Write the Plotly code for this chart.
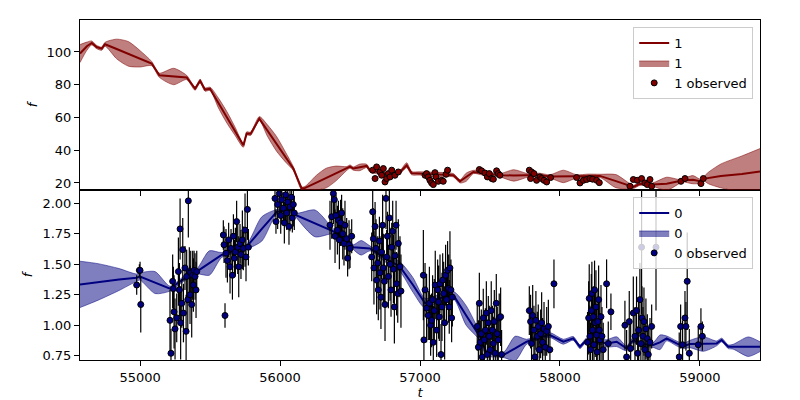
import plotly.graph_objects as go

# ---------------- Series "1" (top panel) ----------------
t1_mean = [54571, 54620, 54655, 54690, 54726, 54750, 54833, 54917, 55000, 55083,
           55138, 55240, 55333, 55393, 55429, 55464, 55500, 55560, 55620, 55680,
           55738, 55762, 55790, 55852, 55910, 55975, 56040, 56095, 56155, 56180,
           56260, 56330, 56400, 56476, 56500, 56524, 56570, 56619, 56643, 56700,
           56780, 56857, 56905, 56940, 57000, 57120, 57238, 57286, 57330, 57381,
           57450, 57571, 57670, 57774, 57850, 57929, 58024, 58119, 58200, 58286,
           58400, 58524, 58571, 58660, 58762, 58860, 58881, 58950, 59010, 59024,
           59060, 59150, 59300, 59429]
f1_mean = [99.0, 103.5, 105.5, 103.0, 102.0, 104.7, 101.8, 98.8, 95.8, 92.9,
           85.8, 85.0, 84.4, 77.6, 82.3, 77.0, 77.5, 68.8, 60.1, 51.4,
           43.0, 50.2, 50.0, 59.3, 52.0, 43.9, 35.7, 28.8, 16.6, 17.0,
           20.2, 23.0, 25.8, 28.8, 30.0, 28.8, 29.5, 30.4, 27.5, 26.5,
           25.5, 26.7, 30.8, 26.0, 25.8, 25.0, 24.7, 21.0, 23.5, 26.7,
           26.0, 24.7, 24.6, 24.6, 24.8, 24.0, 24.0, 24.0, 24.2, 24.3,
           21.1, 17.6, 19.5, 19.0, 19.5, 21.0, 21.6, 22.0, 20.9, 22.5,
           23.0, 24.3, 25.5, 27.0]
s1_band = [5.5, 2.5, 1.2, 1.0, 1.0, 1.2, 6.0, 7.5, 5.0, 1.3,
           1.3, 5.0, 1.3, 1.0, 1.0, 1.0, 1.0, 3.0, 3.5, 2.5,
           1.2, 1.0, 1.0, 1.2, 3.5, 4.5, 3.0, 1.2, 1.0, 1.0,
           4.5, 6.0, 4.5, 1.2, 1.0, 1.0, 2.0, 1.0, 1.0, 1.0,
           1.0, 1.0, 1.5, 1.0, 1.0, 1.5, 1.0, 1.0, 2.5, 1.0,
           1.2, 1.0, 3.5, 1.0, 1.2, 1.0, 3.8, 1.0, 1.2, 1.0,
           4.0, 1.0, 1.0, 1.0, 4.0, 1.0, 1.0, 2.5, 1.0, 1.0,
           3.5, 7.3, 11.0, 14.0]

t1_obs = [56662, 56679, 56690, 56714, 56726, 56738, 56750, 56762, 56774, 56786,
          56798, 56821, 56845,
          57036, 57047, 57059, 57071, 57083, 57095, 57107, 57114, 57131, 57155,
          57166, 57186, 57197,
          57424, 57440, 57464, 57481, 57495, 57512, 57524, 57547, 57559, 57571,
          57781, 57797, 57814, 57790, 57833, 57857, 57869, 57886, 57905, 57933,
          58119, 58143, 58167, 58190, 58214, 58233, 58262, 58281,
          58500, 58524, 58552, 58583, 58607, 58624, 58643, 58655,
          58864, 58893, 59007, 59024]
f1_obs = [27.8, 22.7, 29.8, 26.7, 24.7, 28.8, 20.6, 22.7, 25.7, 23.7,
          27.8, 24.7, 26.7,
          24.7, 25.7, 23.7, 21.6, 20.0, 19.0, 26.3, 23.7, 21.0, 21.6,
          21.0, 25.3, 27.8,
          28.2, 27.4, 26.1, 23.7, 25.7, 22.7, 22.3, 27.4, 25.7, 24.7,
          27.8, 26.7, 25.7, 22.7, 21.6, 23.7, 22.7, 21.6, 20.6, 23.3,
          23.3, 20.0, 21.6, 22.1, 22.7, 22.3, 21.6, 20.2,
          18.0, 22.1, 21.6, 22.7, 20.0, 19.0, 22.1, 18.0,
          21.0, 22.7, 19.6, 22.7]
e1_obs = [1.2, 1.0, 1.3, 1.1, 1.0, 1.2, 1.4, 1.0, 1.1, 1.2,
          1.0, 1.3, 1.1,
          1.0, 1.2, 1.1, 1.3, 1.0, 1.2, 1.1, 1.0, 1.3, 1.1,
          1.2, 1.0, 1.1,
          1.0, 1.2, 1.1, 1.0, 1.3, 1.1, 1.2, 1.0, 1.1, 1.2,
          1.1, 1.0, 1.2, 1.3, 1.1, 1.0, 1.2, 1.1, 1.0, 1.2,
          1.1, 1.3, 1.0, 1.2, 1.1, 1.0, 1.2, 1.1,
          1.3, 1.0, 1.1, 1.2, 1.0, 1.3, 1.1, 1.2,
          1.0, 1.1, 1.2, 1.0]

# ---------------- Series "0" (bottom panel) ----------------
t0_mean = [54571, 54700, 54850, 54975, 55000, 55107, 55214, 55300, 55405, 55495,
           55583, 55670, 55762, 55870, 55976, 56050, 56095, 56119, 56250, 56381,
           56440, 56500, 56524, 56580, 56643, 56750, 56857, 56950, 57036, 57130,
           57238, 57330, 57428, 57476, 57595, 57680, 57762, 57850, 57928, 58024,
           58095, 58143, 58190, 58238, 58286, 58333, 58405, 58476, 58524, 58571,
           58666, 58714, 58762, 58833, 58881, 58928, 59024, 59119, 59155, 59202,
           59238, 59345, 59429]
f0_mean = [1.335, 1.355, 1.375, 1.39, 1.40, 1.35, 1.30, 1.37, 1.44, 1.51,
           1.576, 1.61, 1.644, 1.79, 1.93, 1.94, 1.945, 1.90, 1.835, 1.77,
           1.72, 1.67, 1.64, 1.635, 1.63, 1.55, 1.48, 1.33, 1.18, 1.22,
           1.248, 1.08, 0.906, 0.77, 0.756, 0.81, 0.865, 0.90, 0.92, 0.865,
           0.892, 0.824, 0.879, 0.838, 0.865, 0.851, 0.865, 0.81, 0.879, 0.846,
           0.838, 0.86, 0.892, 0.851, 0.829, 0.846, 0.846, 0.851, 0.879, 0.824,
           0.824, 0.824, 0.824]
s0_band = [0.19, 0.15, 0.09, 0.03, 0.03, 0.09, 0.02, 0.02, 0.02, 0.10,
           0.02, 0.02, 0.02, 0.10, 0.02, 0.02, 0.02, 0.02, 0.11, 0.02,
           0.02, 0.02, 0.02, 0.06, 0.02, 0.03, 0.04, 0.06, 0.04, 0.03,
           0.03, 0.08, 0.03, 0.02, 0.02, 0.10, 0.02, 0.02, 0.02, 0.02,
           0.015, 0.015, 0.015, 0.015, 0.02, 0.03, 0.04, 0.02, 0.02, 0.02,
           0.02, 0.06, 0.02, 0.02, 0.02, 0.03, 0.06, 0.02, 0.015, 0.015,
           0.02, 0.08, 0.04]

t0_obs = [54976, 54995, 55000, 55005,
          55214, 55221, 55233, 55238, 55243, 55250, 55262, 55274, 55281, 55286,
          55290, 55298, 55305, 55310, 55321, 55329, 55333, 55341, 55345, 55352,
          55357, 55362, 55369, 55376, 55381, 55386, 55393, 55400, 55405,
          55595, 55600, 55607, 55614, 55624, 55633, 55643, 55650, 55660, 55667,
          55674, 55681, 55690, 55698, 55705, 55714, 55721, 55731, 55738, 55750,
          55757, 55767, 55774,
          55964, 55971, 55983, 55995, 56005, 56012, 56024, 56031, 56040, 56048,
          56055, 56064, 56071, 56081, 56088, 56095, 56102,
          56357, 56369, 56381, 56388, 56393, 56400, 56410, 56417, 56424, 56433,
          56440, 56448, 56457, 56464, 56476, 56483, 56493, 56500, 56512,
          56655, 56662, 56667, 56671, 56679, 56686, 56690, 56698, 56702, 56710,
          56714, 56721, 56726, 56733, 56738, 56745, 56750, 56757, 56762, 56767,
          56774, 56781, 56786, 56793, 56798, 56805, 56810, 56817, 56821, 56829,
          56833, 56841, 56845, 56852, 56857, 56864,
          57024, 57028, 57036, 57047, 57059, 57067, 57076, 57083, 57090, 57095,
          57102, 57109, 57119, 57126, 57133, 57138, 57143, 57150, 57157, 57162,
          57169, 57176, 57183, 57190, 57197, 57205, 57209, 57214, 57221, 57226,
          57231,
          57409, 57417, 57424, 57431, 57438, 57445, 57452, 57459, 57467, 57474,
          57481, 57488, 57495, 57502, 57509, 57517, 57524, 57531, 57538, 57545,
          57552, 57559, 57566, 57576, 57583,
          57781, 57790, 57797, 57805, 57814, 57821, 57828, 57838, 57845, 57852,
          57862, 57869, 57876, 57886, 57895, 57905, 57917, 57928, 57957,
          58197, 58205, 58209, 58214, 58219, 58224, 58228, 58233, 58238, 58243,
          58247, 58252, 58257, 58262, 58266, 58271, 58276, 58281, 58286, 58293,
          58300, 58309, 58333, 58345, 58364,
          58464, 58476, 58495, 58505, 58524, 58536, 58547, 58555, 58562, 58571,
          58578, 58586, 58593, 58600, 58607, 58614, 58624, 58631, 58643, 58655,
          58583, 58686,
          58852, 58862, 58876, 58893, 58900, 58909, 58924, 58988, 59007, 59017]
f0_obs = [1.33, 1.45, 1.45, 1.17,
          1.04, 0.77, 1.36, 1.30, 1.11, 0.97, 1.06, 1.44, 1.29, 1.79,
          1.02, 1.18, 1.62, 1.10, 1.47, 0.95, 1.40, 1.21, 2.02, 1.44,
          1.25, 1.43, 1.17, 1.41, 1.33, 1.45, 1.40, 1.29, 1.44,
          1.74, 1.66, 1.08, 1.59, 1.53, 1.70, 1.48, 1.63, 1.41, 1.73,
          1.55, 1.60, 1.85, 1.64, 1.48, 1.67, 1.58, 1.70, 1.63, 1.78,
          1.56, 1.95, 1.64,
          2.04, 1.85, 1.99, 2.08, 1.90, 2.03, 1.96, 1.84, 2.07, 1.92,
          2.01, 1.81, 1.97, 2.05, 1.88, 1.99, 1.92,
          1.82, 1.89, 2.08, 2.03, 1.73, 1.90, 1.78, 1.86, 1.70, 1.84,
          1.92, 1.75, 1.67, 1.82, 1.71, 1.55, 1.66, 1.63, 1.73,
          1.56, 1.93, 1.71, 1.47, 1.81, 1.63, 1.37, 1.51, 1.29, 1.69,
          1.43, 1.23, 1.60, 1.82, 1.47, 1.36, 1.17, 2.04, 1.56, 1.73,
          1.40, 1.88, 1.50, 1.29, 1.64, 1.77, 1.46, 1.15, 1.57, 1.82,
          1.34, 1.26, 1.67, 1.48, 1.48, 1.28,
          1.41, 0.88, 1.29, 1.14, 1.08, 1.18, 1.00, 1.04, 1.21, 0.86,
          1.12, 1.33, 0.96, 1.29, 1.19, 1.07, 1.34, 0.76, 1.15, 1.37,
          1.26, 1.02, 1.41, 1.21, 1.45, 1.30, 1.15, 1.47, 1.29, 1.06,
          1.23,
          0.99, 0.82, 1.18, 0.86, 0.93, 0.74, 1.06, 0.88, 0.96, 1.10,
          0.76, 1.02, 0.91, 0.80, 1.12, 0.96, 0.85, 1.03, 0.77, 1.18,
          0.93, 0.88, 1.06, 1.07, 0.76,
          1.12, 1.03, 0.85, 1.08, 0.96, 0.74, 1.04, 0.91, 0.99, 0.80,
          0.93, 1.02, 0.86, 0.97, 0.82, 0.95, 0.99, 0.80, 1.34,
          0.86, 1.06, 1.22, 0.91, 0.80, 1.12, 1.26, 0.96, 1.07, 0.84,
          1.29, 1.02, 1.15, 0.92, 0.78, 1.03, 1.21, 0.96, 0.88, 1.07,
          0.91, 0.80, 1.34, 0.85, 1.11,
          1.00, 0.74, 1.03, 0.81, 1.10, 0.91, 1.12, 0.77, 0.96, 1.21,
          0.85, 1.06, 0.91, 1.03, 0.80, 0.97, 0.89, 0.76, 0.86, 0.99,
          1.64, 1.64,
          0.74, 0.99, 0.84, 1.06, 0.99, 1.36, 0.77, 0.84, 0.99, 0.91]
e0_obs = [0.08, 0.05, 0.07, 0.23,
          0.25, 0.20, 0.22, 0.18, 0.30, 0.25, 0.20, 0.28, 0.22, 0.25,
          0.30, 0.20, 0.26, 0.24, 0.18, 0.30, 0.22, 0.25, 0.30, 0.20,
          0.24, 0.18, 0.27, 0.20, 0.22, 0.16, 0.19, 0.23, 0.17,
          0.12, 0.15, 0.10, 0.20, 0.18, 0.14, 0.22, 0.16, 0.20, 0.18,
          0.15, 0.20, 0.17, 0.22, 0.25, 0.16, 0.20, 0.24, 0.18, 0.30,
          0.20, 0.25, 0.15,
          0.15, 0.10, 0.20, 0.18, 0.15, 0.20, 0.12, 0.17, 0.22, 0.14,
          0.18, 0.15, 0.20, 0.16, 0.12, 0.18, 0.14,
          0.20, 0.18, 0.25, 0.15, 0.22, 0.17, 0.20, 0.16, 0.24, 0.19,
          0.15, 0.21, 0.18, 0.20, 0.17, 0.15, 0.20, 0.16, 0.14,
          0.20, 0.22, 0.25, 0.30, 0.20, 0.24, 0.28, 0.22, 0.25, 0.20,
          0.30, 0.26, 0.22, 0.25, 0.28, 0.20, 0.30, 0.25, 0.22, 0.20,
          0.26, 0.24, 0.30, 0.22, 0.20, 0.25, 0.28, 0.30, 0.22, 0.20,
          0.26, 0.24, 0.20, 0.22, 0.25, 0.30,
          0.37, 0.25, 0.22, 0.28, 0.20, 0.30, 0.25, 0.22, 0.20, 0.30,
          0.26, 0.28, 0.22, 0.25, 0.30, 0.20, 0.24, 0.25, 0.28, 0.22,
          0.26, 0.30, 0.25, 0.20, 0.24, 0.28, 0.22, 0.30, 0.25, 0.20,
          0.24,
          0.20, 0.22, 0.25, 0.18, 0.20, 0.22, 0.24, 0.20, 0.18, 0.26,
          0.20, 0.22, 0.25, 0.18, 0.24, 0.20, 0.22, 0.26, 0.20, 0.24,
          0.22, 0.18, 0.20, 0.24, 0.20,
          0.20, 0.22, 0.18, 0.25, 0.20, 0.22, 0.24, 0.20, 0.18, 0.22,
          0.20, 0.25, 0.20, 0.22, 0.18, 0.20, 0.22, 0.20, 0.20,
          0.25, 0.30, 0.28, 0.25, 0.22, 0.30, 0.26, 0.28, 0.25, 0.30,
          0.24, 0.28, 0.30, 0.25, 0.22, 0.26, 0.28, 0.25, 0.22, 0.26,
          0.24, 0.22, 0.20, 0.18, 0.15,
          0.20, 0.22, 0.25, 0.20, 0.30, 0.24, 0.28, 0.22, 0.25, 0.30,
          0.20, 0.26, 0.24, 0.28, 0.22, 0.25, 0.20, 0.22, 0.20, 0.18,
          0.55, 0.52,
          0.20, 0.18, 0.20, 0.22, 0.20, 0.40, 0.20, 0.15, 0.15, 0.12]

x_range = [54571, 59429]
y1_range = [15.7, 119.5]
y0_range = [0.715, 2.109]
x_ticks = [55000, 56000, 57000, 58000, 59000]
x_ticklabels = ["55000", "56000", "57000", "58000", "59000"]
y1_ticks = [20, 40, 60, 80, 100]
y0_ticks = [0.75, 1.00, 1.25, 1.50, 1.75, 2.00]

RED = "#800000"
RED_FILL = "rgba(128,0,0,0.5)"
NAVY = "#000080"
NAVY_FILL = "rgba(0,0,128,0.5)"
FONT = "DejaVu Sans"

fig = go.Figure()


def add_series(t, m, s, to, fo, eo, name, color, fill, xa, ya, leg):
    lo = [a - b for a, b in zip(m, s)]
    hi = [a + b for a, b in zip(m, s)]
    fig.add_trace(go.Scatter(x=t, y=lo, xaxis=xa, yaxis=ya, mode="lines",
                             line=dict(color=fill, width=1, shape="spline", smoothing=0.7),
                             showlegend=False, hoverinfo="skip", legend=leg))
    fig.add_trace(go.Scatter(x=t, y=hi, xaxis=xa, yaxis=ya, mode="lines",
                             line=dict(color=fill, width=1, shape="spline", smoothing=0.7),
                             fill="tonexty", fillcolor=fill, name=name,
                             legend=leg, legendrank=2))
    fig.add_trace(go.Scatter(x=t, y=m, xaxis=xa, yaxis=ya, mode="lines",
                             line=dict(color=color, width=2), name=name,
                             legend=leg, legendrank=1))
    fig.add_trace(go.Scatter(x=to, y=fo, xaxis=xa, yaxis=ya, mode="markers",
                             marker=dict(color=color, size=6, line=dict(color="black", width=1)),
                             error_y=dict(type="data", array=eo, color="black", thickness=1.2, width=0),
                             name=name + " observed", legend=leg, legendrank=3))


add_series(t1_mean, f1_mean, s1_band, t1_obs, f1_obs, e1_obs, "1", RED, RED_FILL, "x2", "y2", "legend")
add_series(t0_mean, f0_mean, s0_band, t0_obs, f0_obs, e0_obs, "0", NAVY, NAVY_FILL, "x", "y", "legend2")

axis_common = dict(showline=True, linecolor="black", linewidth=1, mirror=True,
                   ticks="outside", ticklen=5, tickwidth=1, tickcolor="black",
                   showgrid=False, zeroline=False, automargin=False,
                   tickfont=dict(family=FONT, size=13, color="black"))

legend_common = dict(bgcolor="rgba(255,255,255,0.8)", bordercolor="#cccccc", borderwidth=1,
                     font=dict(family=FONT, size=13, color="black"),
                     xanchor="right", yanchor="top", x=0.99, traceorder="normal")

# page body adds an 8px offset, so the figure is 792x392 with shifted margins
fig.update_layout(
    width=792, height=392,
    margin=dict(l=72, r=40, t=12, b=40, autoexpand=False),
    paper_bgcolor="white", plot_bgcolor="white",
    font=dict(family=FONT, size=13, color="black"),
    xaxis=dict(domain=[0, 1], range=x_range, tickvals=x_ticks, ticktext=x_ticklabels,
               anchor="y", title=dict(text="<i>t</i>", standoff=4,
                                      font=dict(family=FONT, size=13)), **axis_common),
    yaxis=dict(domain=[0, 0.5], range=y0_range, tickvals=y0_ticks, tickformat=".2f",
               anchor="x", title=dict(text="<i>f</i>", standoff=6,
                                      font=dict(family=FONT, size=13)), **axis_common),
    xaxis2=dict(domain=[0, 1], range=x_range, tickvals=x_ticks, showticklabels=False,
                anchor="y2", matches="x", **axis_common),
    yaxis2=dict(domain=[0.5, 1], range=y1_range, tickvals=y1_ticks,
                anchor="x2", title=dict(text="<i>f</i>", standoff=6,
                                        font=dict(family=FONT, size=13)), **axis_common),
    legend=dict(y=0.979, **legend_common),
    legend2=dict(y=0.479, **legend_common),
    showlegend=True,
)

fig.write_html("out.html")
